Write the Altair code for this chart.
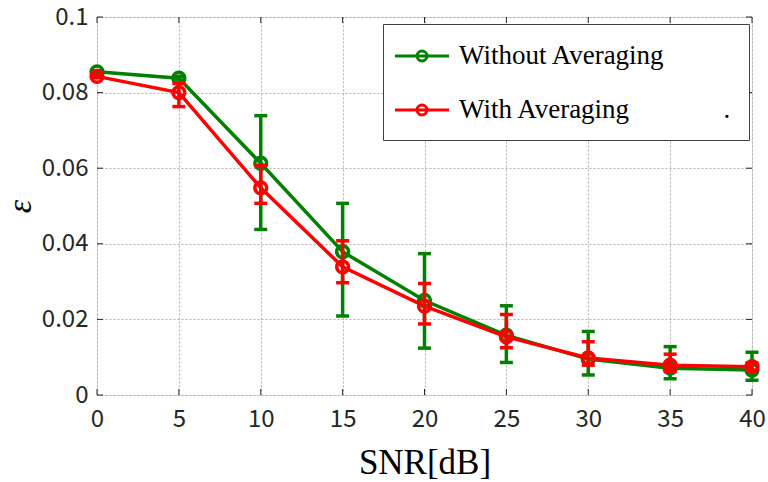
import altair as alt
import pandas as pd

snr = [0, 5, 10, 15, 20, 25, 30, 35, 40]

wo_mean = [0.0855, 0.0838, 0.0613, 0.0379, 0.0250, 0.0158, 0.0095, 0.0071, 0.0066]
wo_high = [0.0858, 0.0843, 0.0739, 0.0507, 0.0374, 0.0236, 0.0168, 0.0128, 0.0113]
wo_low = [0.0852, 0.0833, 0.0438, 0.0209, 0.0124, 0.0086, 0.0053, 0.0043, 0.0039]

w_mean = [0.0843, 0.0800, 0.0548, 0.0339, 0.0235, 0.0154, 0.0098, 0.0079, 0.0075]
w_high = [0.0846, 0.0824, 0.0608, 0.0408, 0.0295, 0.0213, 0.0141, 0.0108, 0.0085]
w_low = [0.0840, 0.0763, 0.0507, 0.0297, 0.0188, 0.0125, 0.0079, 0.0062, 0.0066]

series_names = ["Without Averaging", "With Averaging" + "\u00a0" * 14 + "."]
series_colors = ["#008000", "#ff0000"]

x_ticks = [0, 5, 10, 15, 20, 25, 30, 35, 40]
y_ticks = [0, 0.02, 0.04, 0.06, 0.08, 0.1]

W, H = 655, 378

df_wo = pd.DataFrame({"snr": snr, "mean": wo_mean, "low": wo_low, "high": wo_high,
                      "series": series_names[0]})
df_w = pd.DataFrame({"snr": snr, "mean": w_mean, "low": w_low, "high": w_high,
                     "series": series_names[1]})

xscale = alt.Scale(domain=[0, 40], nice=False, zero=False)
yscale = alt.Scale(domain=[0, 0.1], nice=False, zero=False)
cscale = alt.Scale(domain=series_names, range=series_colors)

xaxis = alt.Axis(values=x_ticks, title="SNR[dB]", grid=True, ticks=False, domain=False,
                 labelFlush=False,
                 labelFont="Noto Sans CJK JP", labelFontSize=24, labelColor="#262626",
                 labelPadding=12, titleFont="Liberation Serif", titleFontSize=35,
                 titleFontWeight="normal", titleColor="#000000", titlePadding=14,
                 gridColor="#b0b0b0", gridDash=[2, 2], gridWidth=1)
yaxis = alt.Axis(values=y_ticks, title="ε", format=".2~f", grid=True, ticks=False, domain=False,
                 labelFlush=False,
                 labelFont="Noto Sans CJK JP", labelFontSize=24, labelColor="#262626",
                 labelPadding=9, titleFont="Liberation Serif", titleFontSize=34,
                 titleFontStyle="italic", titleFontWeight="normal", titleColor="#000000",
                 titlePadding=4, gridColor="#b0b0b0", gridDash=[2, 2], gridWidth=1)

legend = alt.Legend(
    title=None, orient="none", legendX=286, legendY=7,
    symbolType="M-2,0L2,0M0.37,0A0.37,0.37,0,1,1,-0.37,0A0.37,0.37,0,1,1,0.37,0Z",
    symbolSize=729, symbolStrokeWidth=3, symbolFillColor="transparent", symbolOpacity=1,
    symbolOffset=7, labelOffset=22,
    labelFont="Liberation Serif", labelFontSize=27, labelColor="#000000", labelLimit=600,
    fillColor="#ffffff", strokeColor="#404040", padding=17, rowPadding=26,
)


def series_layers(df, col):
    base = alt.Chart(df)
    rules = base.mark_rule(strokeWidth=3.5, opacity=1).encode(
        x=alt.X("snr:Q", scale=xscale, axis=xaxis),
        y=alt.Y("low:Q", scale=yscale, axis=yaxis),
        y2="high:Q", color=alt.value(col))
    cap_hi = base.mark_tick(orient="horizontal", size=13, thickness=3.5, opacity=1).encode(
        x="snr:Q", y="high:Q", color=alt.value(col))
    cap_lo = base.mark_tick(orient="horizontal", size=13, thickness=3.5, opacity=1).encode(
        x="snr:Q", y="low:Q", color=alt.value(col))
    line = base.mark_line(strokeWidth=3.5, opacity=1).encode(
        x="snr:Q", y="mean:Q",
        color=alt.Color("series:N", scale=cscale, legend=legend, sort=series_names))
    pts = base.mark_point(shape="circle", size=140, strokeWidth=3.5, filled=False,
                          opacity=1).encode(x="snr:Q", y="mean:Q", color=alt.value(col))
    return [rules, cap_hi, cap_lo, line, pts]


layers = series_layers(df_wo, series_colors[0]) + series_layers(df_w, series_colors[1])

xt = pd.DataFrame({"t": x_ticks})
yt = pd.DataFrame({"t": y_ticks})
tick_bottom = alt.Chart(xt).mark_rule(color="#262626", strokeWidth=1).encode(
    x="t:Q", y=alt.value(H), y2=alt.value(H - 6))
tick_top = alt.Chart(xt).mark_rule(color="#262626", strokeWidth=1).encode(
    x="t:Q", y=alt.value(0), y2=alt.value(6))
tick_left = alt.Chart(yt).mark_rule(color="#262626", strokeWidth=1).encode(
    y="t:Q", x=alt.value(0), x2=alt.value(6))
tick_right = alt.Chart(yt).mark_rule(color="#262626", strokeWidth=1).encode(
    y="t:Q", x=alt.value(W), x2=alt.value(W - 6))

chart = alt.layer(*layers, tick_bottom, tick_top, tick_left, tick_right).properties(
    width=W, height=H,
    autosize=alt.AutoSizeParams(type="none"),
    padding={"left": 97, "top": 17, "right": 16, "bottom": 87},
).configure_view(stroke="#262626", strokeWidth=1.2).configure(background="#ffffff")

chart.save("out.html", embed_options={"renderer": "svg", "actions": False})
